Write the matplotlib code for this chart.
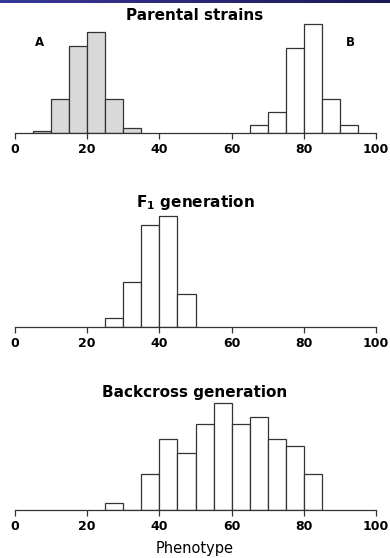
import matplotlib
matplotlib.use("Agg")
import matplotlib.pyplot as plt
import numpy as np

plt.rcParams["font.family"] = ["DejaVu Sans"]

# bin edges (phenotype classes of width 5)
bins_a = [5, 10, 15, 20, 25, 30, 35]
strain_a = [1, 13, 33, 38, 13, 2]
bins_b = [65, 70, 75, 80, 85, 90, 95]
strain_b = [3, 8, 32, 41, 13, 3]

bins_f1 = [25, 30, 35, 40, 45, 50]
f1_counts = [3, 15, 34, 37, 11]

bins_bc = [25, 30, 35, 40, 45, 50, 55, 60, 65, 70, 75, 80, 85]
bc_counts = [1, 0, 5, 10, 8, 12, 15, 12, 13, 10, 9, 5]

ticks = [0, 20, 40, 60, 80, 100]

W, H = 390, 558
fig = plt.figure(figsize=(W / 100, H / 100), dpi=100)

# slide header strip
hdr = fig.add_axes([0, 1 - 3.5 / H, 1, 3.5 / H])
grad = np.linspace(0, 1, 256)[None, :, None]
c0 = np.array([0.22, 0.22, 0.60])
c1 = np.array([0.10, 0.10, 0.33])
hdr.imshow(c0 + (c1 - c0) * grad, aspect="auto", extent=[0, 1, 0, 1])
hdr.axis("off")

x0, x1 = 15, 376
edge = "#333333"


def panel(base_px, ymax, px_per_unit, title, title_px):
    h = ymax * px_per_unit
    ax = fig.add_axes([x0 / W, (H - base_px) / H, (x1 - x0) / W, h / H])
    ax.set_xlim(0, 100)
    ax.set_ylim(0, ymax)
    for s in ["top", "right", "left"]:
        ax.spines[s].set_visible(False)
    ax.spines["bottom"].set_color(edge)
    ax.spines["bottom"].set_linewidth(0.9)
    ax.set_yticks([])
    ax.set_xticks(ticks)
    ax.tick_params(axis="x", length=4, width=0.9, color=edge, pad=3,
                   labelsize=9)
    for lab in ax.get_xticklabels():
        lab.set_fontweight("bold")
    ax.patch.set_alpha(0)
    fig.text(0.5, 1 - title_px / H, title, ha="center", va="center",
             fontsize=11, fontweight="bold")
    return ax


def bars(ax, edges, counts, fc):
    ax.bar(edges[:-1], counts, width=np.diff(edges), align="edge",
           facecolor=fc, edgecolor=edge, linewidth=0.9)


ax1 = panel(133.3, 45, 2.66, "Parental strains", 16)
bars(ax1, bins_a, strain_a, "#d9d9d9")
bars(ax1, bins_b, strain_b, "white")
ax1.text(6.9, 34, "A", ha="center", va="center", fontsize=8.5, fontweight="bold")
ax1.text(93, 34, "B", ha="center", va="center", fontsize=8.5, fontweight="bold")

ax2 = panel(327.3, 40, 3.0, r"F$_\mathregular{1}$ generation", 203)
bars(ax2, bins_f1, f1_counts, "white")

ax3 = panel(510, 16, 7.13, "Backcross generation", 392)
bars(ax3, bins_bc, bc_counts, "white")
fig.text(0.5, 1 - 548 / H, "Phenotype", ha="center", va="center", fontsize=10.5)

fig.savefig("out.png", dpi=100)
